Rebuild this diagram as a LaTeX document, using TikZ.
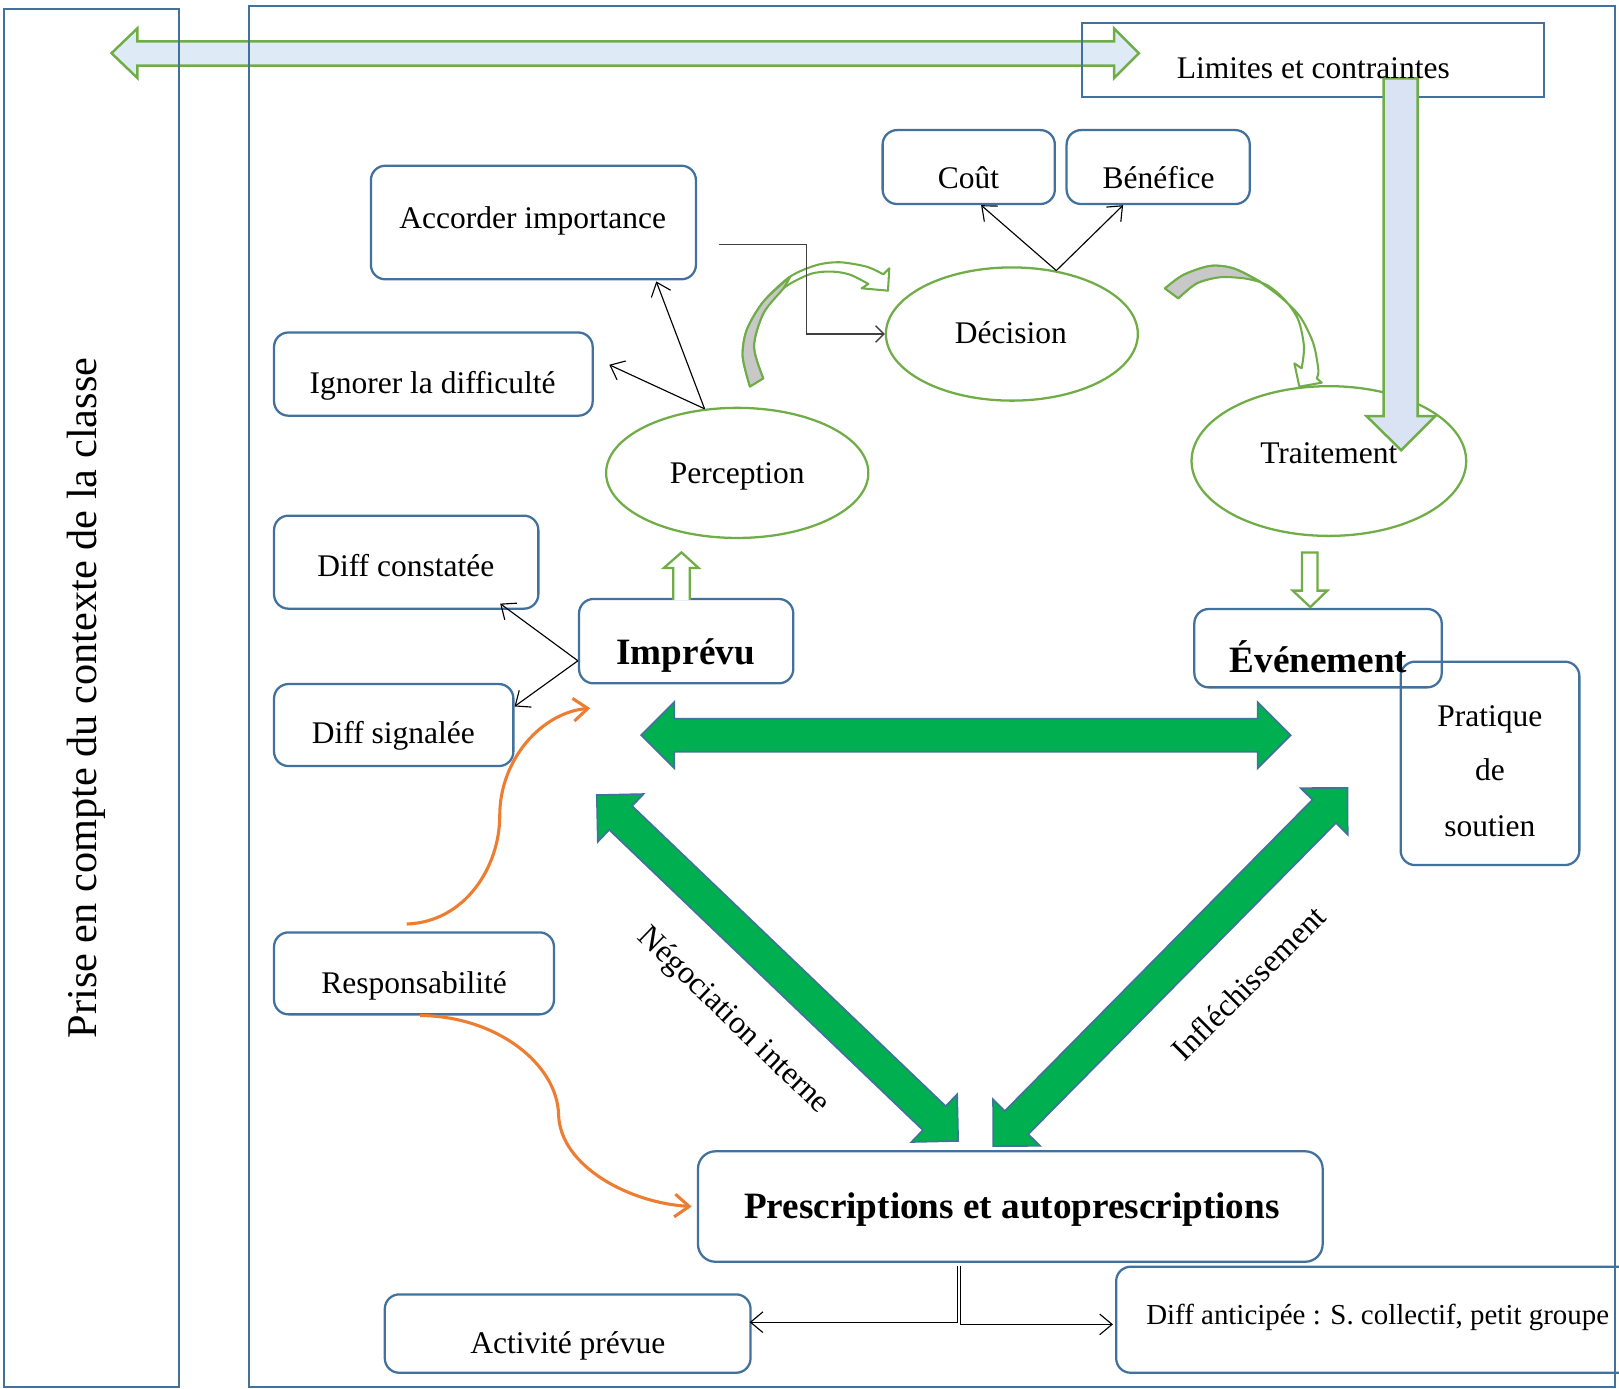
\documentclass[tikz,border=0pt]{standalone}
\usepackage{fontspec}
\setmainfont{Liberation Serif}
\usetikzlibrary{arrows.meta,calc,shapes.geometric,fit}
\definecolor{bxblue}{HTML}{41719C}
\definecolor{lgreen}{HTML}{70AD47}
\definecolor{bgreen}{HTML}{00B050}
\definecolor{lblue}{HTML}{DEEBF7}
\definecolor{lbluetwo}{HTML}{DAE3F3}
\definecolor{grayf}{HTML}{C8C8C8}
\definecolor{orng}{HTML}{ED7D31}
\tikzset{
  frame/.style={draw=bxblue, line width=2.2pt, inner sep=0pt, outer sep=0pt},
  rbox/.style={draw=bxblue, line width=2.2pt, rounded corners=14pt, inner sep=0pt},
  ell/.style={draw=lgreen, line width=2.2pt, ellipse, inner sep=0pt},
  txt/.style={font=\fontsize{30.5}{37}\selectfont, inner sep=0pt, anchor=base},
  btxt/.style={font=\fontsize{36}{43}\selectfont\bfseries, inner sep=0pt, anchor=base},
  smtxt/.style={font=\fontsize{28}{34}\selectfont, inner sep=0pt, anchor=base west},
  vtxt/.style={font=\fontsize{41}{49}\selectfont, inner sep=0pt, anchor=base, rotate=90},
  rtxt/.style={font=\fontsize{31}{37}\selectfont, inner sep=0pt},
  conn/.style={draw=black, line width=1.1pt, -{Straight Barb[length=12pt,width=20pt]}},
  elbconn/.style={draw=black!75, line width=1.3pt, -{Straight Barb[length=8pt,width=16pt]}},
  oconn/.style={draw=orng, line width=3pt, -{Straight Barb[length=14pt,width=22pt]}},
  gblock/.style={fill=bgreen, draw=bxblue, line width=1.6pt, line join=miter},
  lbblock/.style={fill=lblue, draw=lgreen, line width=2.4pt},
  vblock/.style={fill=lbluetwo, draw=lgreen, line width=2.4pt},
  wblock/.style={fill=white, draw=lgreen, line width=2.2pt},
  cband/.style={fill=white, draw=lgreen, line width=2pt, line join=round},
  gband/.style={fill=grayf, draw=lgreen, line width=2pt, line join=round},
}
\newcommand{\myDblBlock}[1]{%
  \filldraw[gblock] (0,0) -- (32,-32) -- (32,-16) -- ({#1-32},-16) -- ({#1-32},-32)
    -- (#1,0) -- ({#1-32},32) -- ({#1-32},16) -- (32,16) -- (32,32) -- cycle;}
\begin{document}
\begin{tikzpicture}[x=1pt,y=-1pt]
\useasboundingbox (0,0) rectangle (1568,1345);

% top double block arrow
\coordinate (tL) at (108,51.5);
\coordinate (tR) at (1103,51.5);
\filldraw[lbblock] (tL) -- (133,27.5) -- (133,40) -- (1079,40) -- (1079,27.5) -- (tR)
  -- (1079,75.5) -- (1079,63.5) -- (133,63.5) -- (133,75.5) -- cycle;

% frames
\node[frame, fit={(3.7,9) (173.7,1343)}] (ctxbox) {};
\node[frame, fit={(241.2,5.8) (1564,1343)}] (mainbox) {};
\node[frame, fit={(1048,22) (1495,93.6)}] (lim) {};
\node[vtxt] (ctx) at (93,676) {Prise en compte du contexte de la classe};

% boxes
\node[rbox, fit={(854.8,126) (1021.6,197.6)}] (cout) {};
\node[rbox, fit={(1033,126) (1210.4,197.6)}] (ben) {};
\node[rbox, fit={(359.2,160.5) (674,270.5)}] (acc) {};
\node[rbox, fit={(265.4,322) (574,402.6)}] (ign) {};
\node[rbox, fit={(265.4,499.4) (521.4,589.5)}] (dc) {};
\node[rbox, fit={(560.8,580.1) (768.3,661.8)}] (impr) {};
\node[rbox, fit={(265.4,662.5) (497.2,741.9)}] (ds) {};
\node[rbox, fit={(1156.7,589.8) (1396.3,665.7)}] (evt) {};
\node[rbox, fit={(1356.5,640.8) (1529.6,837.8)}] (prat) {};
\node[rbox, fit={(265.4,903) (536.5,982.4)}] (resp) {};
\node[rbox, rounded corners=17pt, fit={(676,1115) (1281,1222)}] (presc) {};
\node[rbox, fit={(372.7,1253.6) (726.9,1329.5)}] (act) {};
\node[rbox, fit={(1081,1226.8) (1640,1329.5)}] (dant) {};

% ellipses
\node[ell, minimum width=254pt, minimum height=126pt] (perc) at (714,458) {};
\node[ell, minimum width=244pt, minimum height=129pt] (dec) at (980,323.5) {};
\node[ell, minimum width=266pt, minimum height=145pt] (trt) at (1287,446.5) {};

% texts
\node[txt] (coutT) at (938,183) {Coût};
\node[txt] (benT) at (1122,183) {Bénéfice};
\node[txt] (accT) at (516,221) {Accorder importance};
\node[txt] (ignT) at (419,381) {Ignorer la difficulté};
\node[txt] (decT) at (979,333) {Décision};
\node[txt] (percT) at (714,468) {Perception};
\node[txt] (dcT) at (393,558.5) {Diff constatée};
\node[btxt] (imprT) at (664,644) {Imprévu};
\node[btxt] (evtT) at (1277,651.5) {Événement};
\node[txt] (dsT) at (381,720) {Diff signalée};
\node[txt] (pratA) at (1443,704) {Pratique};
\node[txt] (pratB) at (1443,755.5) {de};
\node[txt] (pratC) at (1443,810) {soutien};
\node[txt] (respT) at (401,962) {Responsabilité};
\node[btxt] (prescT) at (980,1180) {Prescriptions et autoprescriptions};
\node[txt] (actT) at (550,1311) {Activité prévue};
\node[smtxt] (dantT) at (1110,1283) {Diff anticipée : S. collectif, petit groupe};
\node[rtxt, rotate=-44] (negT) at (710,989) {Négociation interne};
\node[rtxt, rotate=45] (infT) at (1209,952) {Infléchissement};

% curved block arrow Perception -> Decision
\filldraw[cband] plot[smooth] coordinates {(726.3,374.3) (719.3,345.4) (723.2,319.6) (739.3,292.2) (765.1,268) (791,256.7) (813.5,254) (839.4,258.3) (855.5,265.7)}
  -- (861.3,259.9) -- (860,281.5) -- (834.5,279.2) -- (841,275)
  -- plot[smooth] coordinates {(841,275) (823.2,266) (805,263) (784.5,265.5) (758.7,279.3) (739.3,303.5) (730.2,335.8) (739.2,366.4)} -- cycle;
\filldraw[gband] plot[smooth] coordinates {(726.3,374.3) (719.3,345.4) (723.2,319.6) (739.3,292.2) (765.1,268)}
  -- plot[smooth] coordinates {(765.1,268) (758.7,279.3) (739.3,303.5) (730.2,335.8) (739.2,366.4)} -- cycle;

% curved block arrow Decision -> Traitement
\filldraw[cband] plot[smooth] coordinates {(1128.3,279.3) (1146,266.3) (1171.9,257.6) (1194.5,259.9) (1217.1,271.1) (1239.7,287.3) (1259.1,306.7) (1271.9,332.5) (1276.8,358.3) (1275.2,366.4)}
  -- (1280.1,370.6) -- (1258.4,374.5) -- (1253.6,351.9) -- (1260.6,356.7)
  -- plot[smooth] coordinates {(1260.6,356.7) (1262.9,335.8) (1257.4,309.9) (1244.5,290.6) (1226.8,276) (1204.2,268.6) (1181.6,268) (1159,274.4) (1141.2,288.9)} -- cycle;
\filldraw[gband] plot[smooth] coordinates {(1128.3,279.3) (1146,266.3) (1171.9,257.6) (1194.5,259.9) (1221,273)}
  -- plot[smooth] coordinates {(1221,273) (1204.2,269.5) (1181.6,268.5) (1159,274.4) (1141.2,288.9)} -- cycle;

% small block arrows
\filldraw[wblock] (652,581) -- (652,550) -- (643,550) -- (660,535) -- (676.5,550) -- (668,550) -- (668,581);
\filldraw[wblock] (1261,535) -- (1276,535) -- (1276,572) -- (1285.5,572) -- (1269,588) -- (1252,572) -- (1261,572) -- cycle;

% big vertical arrow from Limites
\filldraw[vblock] (1340,76) -- (1373,76) -- (1373,403) -- (1390,403) -- (1357,436) -- (1323.5,403) -- (1340,403) -- cycle;
\node[txt] (limT) at (1272,76) {Limites et contraintes};
\node[txt] (trtT) at (1287,449) {Traitement};

% green double block arrows
\coordinate (hA) at (621,712);
\coordinate (hB) at (1250,712);
\coordinate (lA) at (578,770);
\coordinate (lB) at (928,1105);
\coordinate (rA) at (962,1110);
\coordinate (rB) at (1305,763);
\begin{scope}[shift={(hA)}] \myDblBlock{629} \end{scope}
\begin{scope}[shift={(lA)}, rotate=-43.75] \myDblBlock{484.5} \end{scope}
\begin{scope}[shift={(rA)}, rotate=45.33] \myDblBlock{487.9} \end{scope}

% black connectors
\draw[conn] (perc.117) -- ([shift={(119,1)}]acc.south);
\draw[conn] (perc.117) -- ([shift={(15,-9)}]ign.east);
\draw[conn] (dec.55) -- ([shift={(12,0)}]cout.south);
\draw[conn] (dec.55) -- ([shift={(-34,0)}]ben.south);
\draw[conn] ([shift={(0,19)}]impr.west) -- ([shift={(91,-6)}]dc.south);
\draw[conn] ([shift={(0,19)}]impr.west) -- ([shift={(0,-18)}]ds.east);
\coordinate (elbS) at (696,237);
\coordinate (elbM) at (781,280);
\draw[elbconn] (elbS) -| (elbM) |- (dec.west);
\coordinate (pb) at (927,1226);
\draw[conn] (pb) |- ([shift={(-2,-11)}]act.east);
\draw[conn] ([shift={(3,0)}]pb) |- ([shift={(-2,4.5)}]dant.west);

% orange connectors
\draw[oconn] ([shift={(-7,-7)}]resp.north) .. controls (450,893) and (484,840) .. (484,790)
  .. controls (484,735) and (525,690) .. ([shift={(12,23)}]impr.south west);
\draw[oconn] ([shift={(6,0)}]resp.south) .. controls (480,984) and (540,1030) .. (541,1080)
  .. controls (543,1130) and (610,1165) .. ([shift={(-5,0)}]presc.west);
\end{tikzpicture}
\end{document}
